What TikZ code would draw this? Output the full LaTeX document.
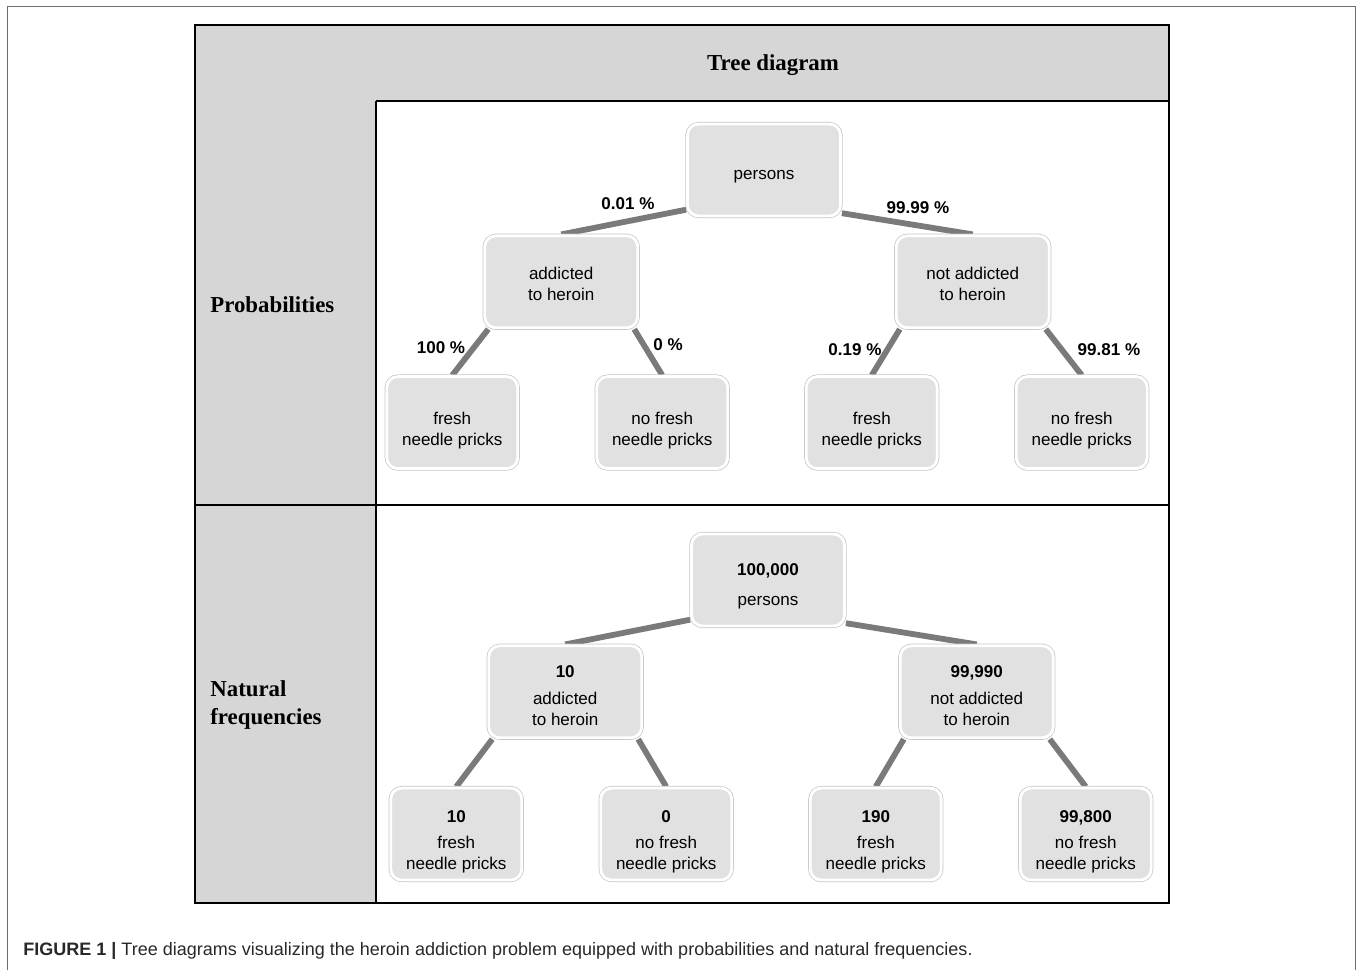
\documentclass[tikz,border=0pt]{standalone}
\usepackage{fontspec}
\setmainfont{Liberation Serif}
\setsansfont{Liberation Sans}
\definecolor{cellgray}{RGB}{214,214,214}
\definecolor{boxgray}{RGB}{225,225,225}
\definecolor{boxrim}{RGB}{196,196,196}
\definecolor{branchgray}{RGB}{122,122,122}
\definecolor{framegray}{RGB}{110,110,110}
\definecolor{captiongray}{RGB}{40,40,40}
\usetikzlibrary{positioning,backgrounds}
% box text, lowered a little inside its box
\newcommand{\boxlines}[2][4pt]{\raisebox{-#1}[\height][\depth]{\begin{tabular}{@{}c@{}}#2\end{tabular}}}

\begin{document}
\begin{tikzpicture}[x=0.02cm,y=-0.02cm,node distance=0.34cm and 0.94cm,
  every node/.style={font=\sffamily\fontsize{9.7}{12}\selectfont},
  box/.style={rounded corners=0.22cm,fill=boxgray,draw=white,line width=1.6pt,
    preaction={draw=boxrim,line width=2.4pt},minimum width=3.06cm,minimum height=1.84cm,
    inner sep=2pt},
  leaf/.style={box,minimum width=2.62cm},
  branch/.style={draw=branchgray,line width=3.3pt},
  pct/.style={font=\sffamily\bfseries\fontsize{9.7}{12}\selectfont},
  rowlabel/.style={font=\bfseries\fontsize{13}{16}\selectfont,align=left,anchor=west,inner sep=0pt}]
\useasboundingbox (0,0) rectangle (1358,970);

% frame and table
\draw[framegray,line width=0.5pt] (7,970) -- (7,6) -- (1355,6) -- (1355,970);
\fill[cellgray] (195,25) rectangle (1169,101);
\fill[cellgray] (195,101) rectangle (376,903);
\draw[line width=1.1pt] (195,25) rectangle (1169,903);
\draw[line width=1.1pt] (376,101) -- (1169,101) (376,101) -- (376,903) (195,505) -- (1169,505);
\node[font=\bfseries\fontsize{13}{16}\selectfont] (title) at (773,65) {Tree diagram};
\node[rowlabel] (prob) at (210,305) {Probabilities};
\node[rowlabel] (natfreq) at (210,705) {Natural\\frequencies};

% probabilities tree
\node[box] (persons) at (764,170) {\boxlines[2.8pt]{persons}};
\node[box,below left=of persons] (add) {\boxlines[2.3pt]{addicted\\to heroin}};
\node[box,below right=0.34cm and 1.06cm of persons] (noadd) {\boxlines[2.3pt]{not addicted\\to heroin}};
\node[leaf,below=0.92cm of add,xshift=-2.18cm] (addfresh) {\boxlines[4.5pt]{fresh\\needle pricks}};
\node[leaf,below=0.92cm of add,xshift=2.02cm] (addnofresh) {\boxlines[4.5pt]{no fresh\\needle pricks}};
\node[leaf,below=0.92cm of noadd,xshift=-2.02cm] (noaddfresh) {\boxlines[4.5pt]{fresh\\needle pricks}};
\node[leaf,below=0.92cm of noadd,xshift=2.18cm] (noaddnofresh) {\boxlines[4.5pt]{no fresh\\needle pricks}};
\node[pct] (padd) at (628,204) {0.01 \%};
\node[pct] (pnoadd) at (918,208) {99.99 \%};
\node[pct] (paddfresh) at (441,348) {100 \%};
\node[pct] (paddnofresh) at (668,345) {0 \%};
\node[pct] (pnoaddfresh) at (855,350) {0.19 \%};
\node[pct] (pnoaddnofresh) at (1109,350) {99.81 \%};

% natural frequencies tree
\node[box] (all) at (768,580) {\boxlines[3.4pt]{\textbf{100,000}\\[5pt]persons}};
\node[box,below left=of all] (nadd) {\boxlines[3.1pt]{\textbf{10}\\[3pt]addicted\\to heroin}};
\node[box,below right=0.34cm and 1.06cm of all] (nnoadd) {\boxlines[3.1pt]{\textbf{99,990}\\[3pt]not addicted\\to heroin}};
\node[leaf,below=0.95cm of nadd,xshift=-2.18cm] (naddfresh) {\boxlines[4.5pt]{\textbf{10}\\[3pt]fresh\\needle pricks}};
\node[leaf,below=0.95cm of nadd,xshift=2.02cm] (naddnofresh) {\boxlines[4.5pt]{\textbf{0}\\[3pt]no fresh\\needle pricks}};
\node[leaf,below=0.95cm of nnoadd,xshift=-2.02cm] (nnoaddfresh) {\boxlines[4.5pt]{\textbf{190}\\[3pt]fresh\\needle pricks}};
\node[leaf,below=0.95cm of nnoadd,xshift=2.18cm] (nnoaddnofresh) {\boxlines[4.5pt]{\textbf{99,800}\\[3pt]no fresh\\needle pricks}};

\begin{scope}[on background layer]
\draw[branch] (persons.207) -- (add.north);
\draw[branch] (persons.-29) -- (noadd.north);
\draw[branch] (add.213) -- (addfresh.north);
\draw[branch] (add.-33) -- (addnofresh.north);
\draw[branch] (noadd.213) -- (noaddfresh.north);
\draw[branch] (noadd.-33) -- (noaddnofresh.north);
\draw[branch] (all.207) -- (nadd.north);
\draw[branch] (all.-29) -- (nnoadd.north);
\draw[branch] (nadd.213) -- (naddfresh.north);
\draw[branch] (nadd.-33) -- (naddnofresh.north);
\draw[branch] (nnoadd.213) -- (nnoaddfresh.north);
\draw[branch] (nnoadd.-33) -- (nnoaddnofresh.north);
\end{scope}

\node[anchor=west,inner sep=0pt,text=captiongray,font=\sffamily\fontsize{10.25}{12}\selectfont] (caption) at (23,951)
  {\textbf{FIGURE 1 |} Tree diagrams visualizing the heroin addiction problem equipped with probabilities and natural frequencies.};
\end{tikzpicture}
\end{document}
